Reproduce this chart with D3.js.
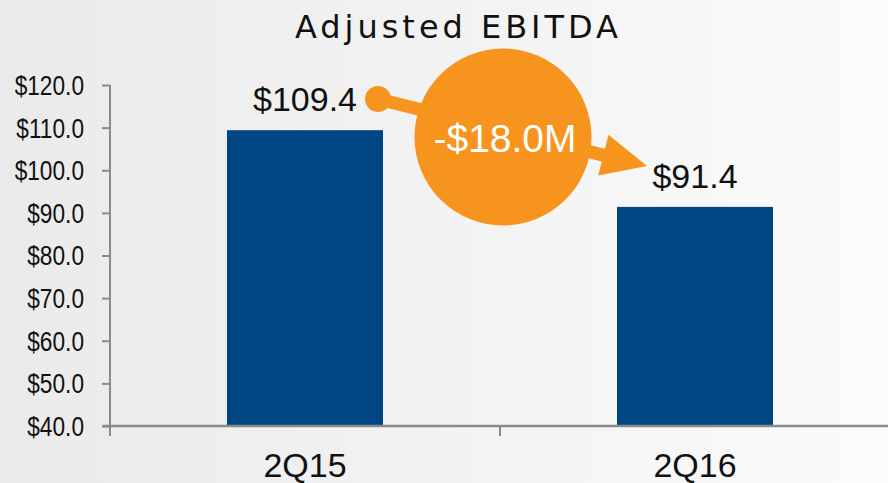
<!DOCTYPE html>
<html>
<head>
<meta charset="utf-8">
<script src="https://cdn.jsdelivr.net/npm/d3@7"></script>
<style>
  html, body { margin: 0; padding: 0; }
  svg { display: block; }
</style>
</head>
<body>
<svg id="chart" width="888" height="483"></svg>
<script>
const categories = ["2Q15", "2Q16"];
const values = [109.4, 91.4];
const valueLabels = ["$109.4", "$91.4"];
const yTicks = [40, 50, 60, 70, 80, 90, 100, 110, 120];
const title = "Adjusted EBITDA";
const changeLabel = "-$18.0M";

const svg = d3.select("#chart");
const width = 888, height = 483;

// background gradient
const defs = svg.append("defs");
const grad = defs.append("linearGradient").attr("id", "bg").attr("x1", 0).attr("x2", 1).attr("y1", 0).attr("y2", 0);
grad.append("stop").attr("offset", "0%").attr("stop-color", "#eaeaea");
grad.append("stop").attr("offset", "100%").attr("stop-color", "#fbfbfb");
svg.append("rect").attr("width", width).attr("height", height).attr("fill", "url(#bg)");

const x = d3.scaleBand().domain(categories).range([110, 890]).paddingInner(0.6).paddingOuter(0.3);
const y = d3.scaleLinear().domain([40, 120]).range([426, 85]);
const axisColor = "#8a8a8a";

// bars
svg.selectAll("rect.bar")
  .data(values)
  .enter()
  .append("rect")
  .attr("class", "bar")
  .attr("x", (d, i) => x(categories[i]))
  .attr("width", x.bandwidth())
  .attr("y", d => y(d))
  .attr("height", d => y(40) - y(d))
  .attr("fill", "#004682");

// y axis
const yAxis = svg.append("g")
  .attr("transform", "translate(110,0)")
  .call(d3.axisLeft(y).tickValues(yTicks).tickSize(8).tickFormat(d => "$" + d.toFixed(1)));
yAxis.select(".domain").attr("d", "M0,85V426").attr("stroke", axisColor).attr("stroke-width", 2);
yAxis.selectAll(".tick line").attr("stroke", axisColor).attr("stroke-width", 2);
// narrow the labels like a condensed face
yAxis.selectAll(".tick text")
  .attr("x", 0)
  .attr("dy", "0.35em")
  .attr("transform", "translate(-26,0) scale(0.84,1)")
  .attr("fill", "#111")
  .style("font-family", "'Liberation Sans', Arial, sans-serif")
  .style("font-size", "27px");

// x axis
const xEdges = d3.scaleLinear().domain([0, 2]).range([110, 890]);
const xAxis = svg.append("g").attr("transform", "translate(0,426)");
xAxis.append("line").attr("x1", 103).attr("x2", 890).attr("stroke", axisColor).attr("stroke-width", 2.5);
xAxis.selectAll("line.tick")
  .data([0, 1, 2])
  .enter()
  .append("line")
  .attr("class", "tick")
  .attr("x1", d => xEdges(d)).attr("x2", d => xEdges(d))
  .attr("y1", 0).attr("y2", 10)
  .attr("stroke", axisColor).attr("stroke-width", 2);
svg.selectAll("text.cat")
  .data(categories)
  .enter()
  .append("text")
  .attr("class", "cat")
  .attr("x", d => x(d) + x.bandwidth() / 2)
  .attr("y", 477)
  .attr("text-anchor", "middle")
  .style("font-family", "'Liberation Sans', Arial, sans-serif")
  .style("font-size", "34px")
  .attr("fill", "#111")
  .text(d => d);

// value labels
svg.selectAll("text.val")
  .data(values)
  .enter()
  .append("text")
  .attr("class", "val")
  .attr("x", (d, i) => x(categories[i]) + x.bandwidth() / 2)
  .attr("y", d => y(d) - 19)
  .attr("text-anchor", "middle")
  .style("font-family", "'Liberation Sans', Arial, sans-serif")
  .style("font-size", "34px")
  .attr("fill", "#111")
  .text((d, i) => valueLabels[i]);

// title
svg.append("text")
  .attr("x", 295)
  .attr("y", 38)
  .attr("textLength", 323)
  .attr("lengthAdjust", "spacing")
  .style("font-family", "'DejaVu Sans', sans-serif")
  .style("font-size", "32px")
  .attr("fill", "#111")
  .text(title);

// change callout
const orange = "#f7941d";
const start = [378, 99], tip = [647, 166];
const ang = Math.atan2(tip[1] - start[1], tip[0] - start[0]);
const headLen = 45, headHalf = 21;
const base = [tip[0] - headLen * Math.cos(ang), tip[1] - headLen * Math.sin(ang)];
const nx = -Math.sin(ang), ny = Math.cos(ang);

svg.append("line")
  .attr("x1", start[0]).attr("y1", start[1])
  .attr("x2", base[0] + 2 * Math.cos(ang)).attr("y2", base[1] + 2 * Math.sin(ang))
  .attr("stroke", orange).attr("stroke-width", 13);
svg.append("circle").attr("cx", start[0]).attr("cy", start[1]).attr("r", 13).attr("fill", orange);
svg.append("path")
  .attr("d", d3.line()([
    tip,
    [base[0] + nx * headHalf, base[1] + ny * headHalf],
    [base[0] - nx * headHalf, base[1] - ny * headHalf]
  ]) + "Z")
  .attr("fill", orange);
svg.append("circle").attr("cx", 503).attr("cy", 137).attr("r", 88.5).attr("fill", orange);
svg.append("text")
  .attr("x", 505)
  .attr("y", 152)
  .attr("text-anchor", "middle")
  .style("font-family", "'Liberation Sans', Arial, sans-serif")
  .style("font-size", "39px")
  .attr("fill", "#fff")
  .text(changeLabel);
</script>
</body>
</html>
